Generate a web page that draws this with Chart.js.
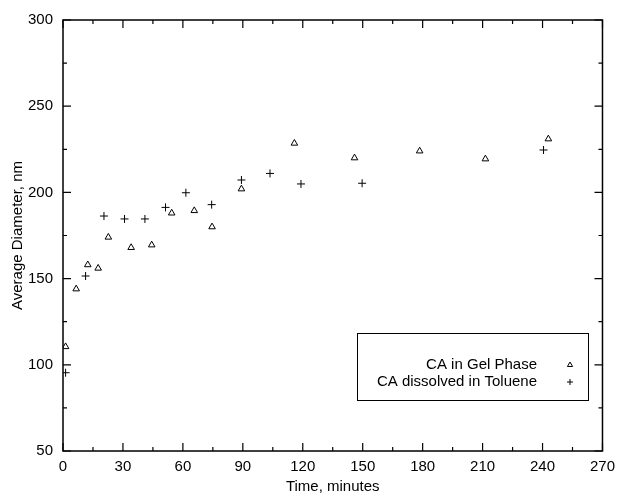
<!DOCTYPE html>
<html lang="en">
<head>
  <meta charset="UTF-8" />
  <title>Average Diameter vs Time</title>
  <script src="https://cdn.jsdelivr.net/npm/chart.js"></script>
  <style>
    html, body { margin: 0; padding: 0; background: #fff; }
    #wrap { width: 622px; height: 496px; }
  </style>
</head>
<body>
  <div id="wrap"><canvas id="chart" width="622" height="496"></canvas></div>

  <script>
    // data
    const gelTime = [1.3, 6.6, 12.4, 17.6, 22.7, 34.1, 44.4, 54.4, 65.7, 74.6, 89.3, 115.8, 145.9, 178.5, 211.4, 242.9];
    const gelDiam = [110.5, 144, 158, 156, 174, 168, 169.5, 188, 189.4, 180, 202, 228.5, 220, 224, 219.4, 231];
    const tolTime = [1.3, 11.3, 20.5, 30.8, 41, 51.3, 61.5, 74.4, 89.3, 103.6, 119.1, 149.7, 240.5];
    const tolDiam = [95.4, 151.5, 186.3, 184.6, 184.6, 191.3, 199.8, 192.9, 207.2, 211, 204.9, 205.3, 224.6];

    const xMin = 0, xMax = 270, xStep = 30, xMinor = 15;
    const yMin = 50, yMax = 300, yStep = 50, yMinor = 25;

    const FONT = '"Liberation Sans", Arial, Helvetica, sans-serif';

    function toPoints(xs, ys) {
      return xs.map((x, i) => ({ x: x, y: ys[i] }));
    }

    // box around the plot with inward ticks on all four sides, plus the legend box
    const frame = {
      id: 'frame',
      afterDraw(chart) {
        const { ctx, chartArea: a, scales: { x, y } } = chart;
        ctx.save();
        ctx.strokeStyle = '#000';
        ctx.lineWidth = 1.5;
        ctx.strokeRect(a.left, a.top, a.right - a.left, a.bottom - a.top);
        ctx.lineWidth = 1.2;
        ctx.beginPath();
        for (let v = xMin; v <= xMax; v += xMinor) {
          const px = x.getPixelForValue(v);
          const len = (v % xStep === 0) ? 8 : 4;
          ctx.moveTo(px, a.bottom); ctx.lineTo(px, a.bottom - len);
          ctx.moveTo(px, a.top); ctx.lineTo(px, a.top + len);
        }
        for (let v = yMin; v <= yMax; v += yMinor) {
          const py = y.getPixelForValue(v);
          const len = (v % yStep === 0) ? 8 : 4;
          ctx.moveTo(a.left, py); ctx.lineTo(a.left + len, py);
          ctx.moveTo(a.right, py); ctx.lineTo(a.right - len, py);
        }
        ctx.stroke();

        // legend
        const bx = 357, by = 333, bw = 231, bh = 67;
        ctx.lineWidth = 1;
        ctx.strokeRect(bx + 0.5, by + 0.5, bw, bh);
        ctx.font = '15px ' + FONT;
        ctx.textAlign = 'right';
        ctx.textBaseline = 'middle';
        chart.data.datasets.forEach((ds, i) => {
          const ty = 365 + i * 17;
          ctx.fillStyle = '#000';
          ctx.fillText(ds.label, 537, ty);
          ctx.fillStyle = 'rgba(0,0,0,0)';
          ctx.strokeStyle = '#000';
          ctx.lineWidth = 1;
          Chart.helpers.drawPoint(ctx, {
            pointStyle: ds.pointStyle, radius: 3, borderWidth: 1
          }, 570, ty);
        });
        ctx.restore();
      }
    };

    new Chart(document.getElementById('chart'), {
      type: 'scatter',
      data: {
        datasets: [
          {
            label: 'CA in Gel Phase',
            data: toPoints(gelTime, gelDiam),
            pointStyle: 'triangle',
            pointRadius: 3.8,
            backgroundColor: 'rgba(0,0,0,0)',
            borderColor: '#000',
            borderWidth: 1
          },
          {
            label: 'CA dissolved in Toluene',
            data: toPoints(tolTime, tolDiam),
            pointStyle: 'cross',
            pointRadius: 4,
            backgroundColor: 'rgba(0,0,0,0)',
            borderColor: '#000',
            borderWidth: 1
          }
        ]
      },
      options: {
        responsive: false,
        animation: false,
        layout: { padding: { left: 0, top: 20, right: 15, bottom: 0 } },
        plugins: {
          legend: { display: false },
          tooltip: { enabled: false }
        },
        scales: {
          x: {
            type: 'linear',
            min: xMin, max: xMax,
            grid: { display: false, drawTicks: false },
            border: { display: false },
            ticks: {
              stepSize: xStep, padding: 7, color: '#000',
              font: { family: FONT, size: 15 }
            },
            title: {
              display: true, text: 'Time, minutes', color: '#000',
              font: { family: FONT, size: 15 }, padding: { top: 2, bottom: 0 }
            },
            afterFit(scale) { scale.height = 45; }
          },
          y: {
            type: 'linear',
            min: yMin, max: yMax,
            grid: { display: false, drawTicks: false },
            border: { display: false },
            ticks: {
              stepSize: yStep, padding: 10, color: '#000',
              font: { family: FONT, size: 15 }
            },
            title: {
              display: true, text: 'Average Diameter, nm', color: '#000',
              font: { family: FONT, size: 15 }, padding: { top: 9, bottom: 0 }
            },
            afterFit(scale) { scale.width = 63; }
          }
        }
      },
      plugins: [frame]
    });
  </script>
</body>
</html>
